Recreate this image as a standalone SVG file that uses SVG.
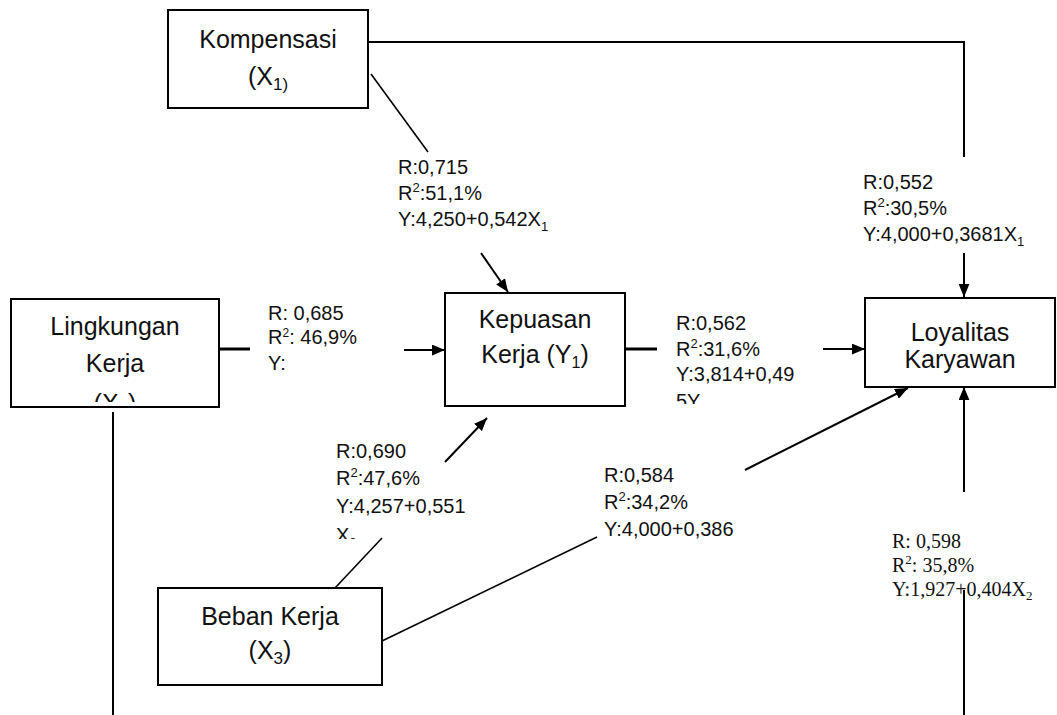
<svg xmlns="http://www.w3.org/2000/svg" width="1057" height="715" viewBox="0 0 1057 715">
<style>
.box{fill:#fff;stroke:#000;stroke-width:2}
.bt{font-family:"Liberation Sans",Arial,sans-serif;font-size:25px;fill:#111;text-anchor:middle}
.lb{font-family:"Liberation Sans",Arial,sans-serif;font-size:20px;fill:#111}
.lbs{font-family:"Liberation Serif","Times New Roman",serif;font-size:20px;fill:#111}
.ln{fill:none;stroke:#000;stroke-width:2}
.thin{fill:none;stroke:#000;stroke-width:1.6}
.thick{fill:none;stroke:#000;stroke-width:3}
</style>
<defs>
<marker id="ah" viewBox="0 0 12 10" refX="12" refY="5" markerWidth="13" markerHeight="11" markerUnits="userSpaceOnUse" orient="auto">
<path d="M0,0 L12,5 L0,10 z" fill="#000"/>
</marker>
<clipPath id="c1"><rect x="0" y="0" width="1057" height="402"/></clipPath>
<clipPath id="c2"><rect x="0" y="0" width="1057" height="404"/></clipPath>
<clipPath id="c3"><rect x="0" y="0" width="1057" height="539"/></clipPath>
</defs>

<g id="connectors">
<polyline class="ln" points="368,42 964,42 964,157"/>
<line class="ln" x1="964" y1="253" x2="964" y2="297" marker-end="url(#ah)"/>
<line class="thin" x1="371" y1="74" x2="428" y2="152"/>
<line class="ln" x1="481" y1="253" x2="508" y2="292" marker-end="url(#ah)"/>
<line class="thick" x1="219" y1="349" x2="250" y2="349"/>
<line class="ln" x1="404" y1="350" x2="445" y2="350" marker-end="url(#ah)"/>
<line class="thick" x1="625" y1="349" x2="657" y2="349"/>
<line class="ln" x1="823" y1="349" x2="865" y2="349" marker-end="url(#ah)"/>
<line class="thin" x1="335" y1="588" x2="382" y2="538"/>
<line class="ln" x1="445" y1="462" x2="487" y2="418" marker-end="url(#ah)"/>
<line class="thin" x1="382" y1="641" x2="597" y2="537"/>
<line class="ln" x1="745" y1="470" x2="908" y2="388" marker-end="url(#ah)"/>
<line class="ln" x1="964" y1="492" x2="964" y2="387" marker-end="url(#ah)"/>
<line class="ln" x1="964" y1="590" x2="964" y2="715"/>
<line class="ln" x1="113" y1="412" x2="113" y2="715"/>
</g>

<g id="kompensasi">
<rect class="box" x="168" y="10" width="200" height="98"/>
<text class="bt" x="268" y="48">Kompensasi</text>
<text class="bt" x="268" y="85">(X<tspan font-size="17" dy="5">1)</tspan></text>
</g>

<g id="lingkungan">
<rect class="box" x="11" y="299" width="208" height="108"/>
<text class="bt" x="115" y="335">Lingkungan</text>
<text class="bt" x="115" y="372">Kerja</text>
<text class="bt" x="115" y="412" clip-path="url(#c1)">(X<tspan font-size="17" dy="5">2</tspan><tspan dy="-5">)</tspan></text>
</g>

<g id="kepuasan">
<rect class="box" x="445" y="293" width="180" height="113"/>
<text class="bt" x="535" y="328" font-size="24">Kepuasan</text>
<text class="bt" x="535" y="363" font-size="24">Kerja (Y<tspan font-size="16" dy="5">1</tspan><tspan dy="-5">)</tspan></text>
</g>

<g id="loyalitas">
<rect class="box" x="865" y="298" width="190" height="89"/>
<text class="bt" x="960" y="341">Loyalitas</text>
<text class="bt" x="960" y="368">Karyawan</text>
</g>

<g id="beban">
<rect class="box" x="158" y="588" width="224" height="97"/>
<text class="bt" x="270" y="625">Beban Kerja</text>
<text class="bt" x="270" y="659">(X<tspan font-size="17" dy="5">3</tspan><tspan dy="-5">)</tspan></text>
</g>

<g id="labels">
<text class="lb" x="398" y="174">R:0,715</text>
<text class="lb" x="398" y="200">R<tspan font-size="13" dy="-8">2</tspan><tspan dy="8">:51,1%</tspan></text>
<text class="lb" x="398" y="226">Y:4,250+0,542X<tspan font-size="13" dy="5">1</tspan></text>

<text class="lb" x="863" y="189">R:0,552</text>
<text class="lb" x="863" y="215">R<tspan font-size="13" dy="-8">2</tspan><tspan dy="8">:30,5%</tspan></text>
<text class="lb" x="863" y="241">Y:4,000+0,3681X<tspan font-size="13" dy="5">1</tspan></text>

<text class="lb" x="268" y="320" font-size="18">R: 0,685</text>
<text class="lb" x="268" y="344" font-size="18">R<tspan font-size="12" dy="-7">2</tspan><tspan dy="7">: 46,9%</tspan></text>
<text class="lb" x="268" y="370" font-size="18">Y:</text>

<text class="lb" x="676" y="330">R:0,562</text>
<text class="lb" x="676" y="356">R<tspan font-size="13" dy="-8">2</tspan><tspan dy="8">:31,6%</tspan></text>
<text class="lb" x="676" y="381">Y:3,814+0,49</text>
<text class="lb" x="676" y="408" clip-path="url(#c2)">5Y<tspan font-size="13" dy="5">1</tspan></text>

<text class="lb" x="336" y="458">R:0,690</text>
<text class="lb" x="336" y="485">R<tspan font-size="13" dy="-8">2</tspan><tspan dy="8">:47,6%</tspan></text>
<text class="lb" x="336" y="513">Y:4,257+0,551</text>
<text class="lb" x="336" y="542" clip-path="url(#c3)">X<tspan font-size="13" dy="5">2</tspan></text>

<text class="lb" x="604" y="482">R:0,584</text>
<text class="lb" x="604" y="509">R<tspan font-size="13" dy="-8">2</tspan><tspan dy="8">:34,2%</tspan></text>
<text class="lb" x="604" y="536">Y:4,000+0,386</text>

<text class="lbs" x="892" y="548">R: 0,598</text>
<text class="lbs" x="892" y="572">R<tspan font-size="13" dy="-8">2</tspan><tspan dy="8">: 35,8%</tspan></text>
<text class="lbs" x="892" y="596">Y:1,927+0,404X<tspan font-size="13" dy="4">2</tspan></text>
</g>
</svg>
